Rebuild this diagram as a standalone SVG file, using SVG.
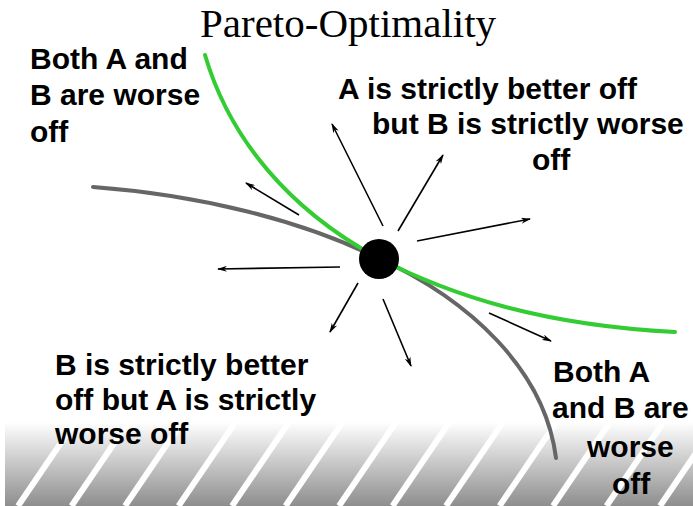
<svg xmlns="http://www.w3.org/2000/svg" width="693" height="506" viewBox="0 0 693 506">
<style>
.lbl{font-family:"Liberation Sans",Arial,sans-serif;font-weight:bold;font-size:30px;fill:#000}
.title{font-family:"Liberation Serif","Times New Roman",serif;font-size:41px;fill:#000}
.arr{stroke:#000;stroke-width:1.6;fill:none;marker-end:url(#ah)}
.stripe{stroke:#fff;stroke-width:6}
</style>
<defs>
<linearGradient id="band" x1="0" y1="0" x2="0" y2="1">
<stop offset="0" stop-color="#ffffff"/>
<stop offset="1" stop-color="#8e8e8e"/>
</linearGradient>
<clipPath id="bandclip"><rect x="5" y="422" width="688" height="84"/></clipPath>
<marker id="ah" viewBox="0 0 10 6" refX="9" refY="3" markerWidth="10" markerHeight="6" markerUnits="userSpaceOnUse" orient="auto">
<path d="M0,0 L10,3 L0,6 L3,3 Z" fill="#000"/>
</marker>
</defs>
<rect width="693" height="506" fill="#fff"/>
<g id="ground">
<rect x="5" y="422" width="688" height="84" fill="url(#band)"/>
<g clip-path="url(#bandclip)">
<line class="stripe" x1="18" y1="506" x2="75" y2="422"/>
<line class="stripe" x1="71.5" y1="506" x2="128.5" y2="422"/>
<line class="stripe" x1="125" y1="506" x2="182" y2="422"/>
<line class="stripe" x1="178.5" y1="506" x2="235.5" y2="422"/>
<line class="stripe" x1="232" y1="506" x2="289" y2="422"/>
<line class="stripe" x1="285.5" y1="506" x2="342.5" y2="422"/>
<line class="stripe" x1="339" y1="506" x2="396" y2="422"/>
<line class="stripe" x1="392.5" y1="506" x2="449.5" y2="422"/>
<line class="stripe" x1="446" y1="506" x2="503" y2="422"/>
<line class="stripe" x1="499.5" y1="506" x2="556.5" y2="422"/>
<line class="stripe" x1="553" y1="506" x2="610" y2="422"/>
<line class="stripe" x1="606.5" y1="506" x2="663.5" y2="422"/>
<line class="stripe" x1="660" y1="506" x2="717" y2="422"/>
</g>
</g>
<g id="curves">
<path id="gray-curve" d="M93,187 C200,195 300,220 378,258 C470,300 545,370 556,458" fill="none" stroke="#666" stroke-width="4" stroke-linecap="round"/>
<path id="green-curve" d="M205,55 C230,140 290,210 378,258 C450,295 540,325 675,332" fill="none" stroke="#33cc33" stroke-width="4" stroke-linecap="round"/>
</g>
<g id="connectors">
<line class="arr" x1="383" y1="226" x2="332" y2="124"/>
<line class="arr" x1="398" y1="231" x2="443" y2="155"/>
<line class="arr" x1="417" y1="241" x2="530" y2="219"/>
<line class="arr" x1="340" y1="267" x2="218" y2="269"/>
<line class="arr" x1="299" y1="215" x2="246" y2="183"/>
<line class="arr" x1="358" y1="283" x2="330" y2="332"/>
<line class="arr" x1="383" y1="299" x2="411" y2="366"/>
<line class="arr" x1="489" y1="313" x2="551" y2="341"/>
</g>
<g id="point"><circle cx="379" cy="259" r="20" fill="#000"/></g>
<g id="title"><text class="title" x="200" y="37">Pareto-Optimality</text></g>
<g id="label-top-left">
<text class="lbl" x="30" y="69">Both A and</text>
<text class="lbl" x="30" y="105">B are worse</text>
<text class="lbl" x="30" y="142">off</text>
</g>
<g id="label-top-right">
<text class="lbl" x="338" y="99">A is strictly better off</text>
<text class="lbl" x="372" y="134">but B is strictly worse</text>
<text class="lbl" x="532" y="170">off</text>
</g>
<g id="label-bottom-left">
<text class="lbl" x="55" y="375">B is strictly better</text>
<text class="lbl" x="55" y="410">off but A is strictly</text>
<text class="lbl" x="55" y="444">worse off</text>
</g>
<g id="label-bottom-right">
<text class="lbl" x="553" y="382">Both A</text>
<text class="lbl" x="552" y="418">and B are</text>
<text class="lbl" x="587" y="457">worse</text>
<text class="lbl" x="612" y="494">off</text>
</g>
</svg>
